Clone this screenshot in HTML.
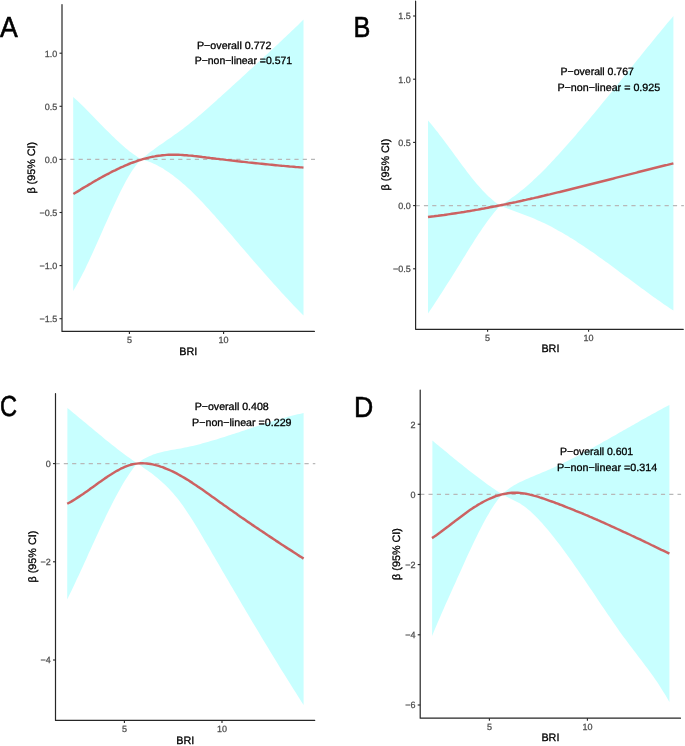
<!DOCTYPE html>
<html><head><meta charset="utf-8"><title>RCS plots</title>
<style>
html,body{margin:0;padding:0;background:#fff;}
body{width:685px;height:746px;overflow:hidden;}
svg{display:block;font-family:"Liberation Sans", sans-serif;will-change:transform;text-rendering:geometricPrecision;}
</style></head><body>
<svg width="685" height="746" viewBox="0 0 685 746">
<rect width="685" height="746" fill="#fff"/>
<g><path d="M73.2 96.9L75.1 98.7L77.1 100.5L79.0 102.3L81.0 104.2L82.9 106.1L84.9 108.0L86.8 109.9L88.8 111.9L90.7 113.9L92.7 115.9L94.6 117.9L96.5 119.9L98.5 121.9L100.4 123.9L102.4 125.9L104.3 127.9L106.3 129.9L108.2 131.8L110.2 133.8L112.1 135.7L114.1 137.6L116.0 139.5L118.0 141.3L119.9 143.1L121.8 144.8L123.8 146.5L125.7 148.2L127.7 149.8L129.6 151.4L131.6 152.8L133.5 154.3L135.5 155.6L137.4 156.9L139.4 158.2L141.3 159.3L141.3 159.3L143.3 157.6L145.3 156.0L147.2 154.4L149.2 152.8L151.2 151.3L153.2 149.9L155.1 148.4L157.1 147.0L159.1 145.6L161.1 144.2L163.1 142.9L165.0 141.5L167.0 140.1L169.0 138.8L171.0 137.4L172.9 136.0L174.9 134.6L176.9 133.2L178.9 131.8L180.9 130.3L182.8 128.9L184.8 127.3L186.8 125.8L188.8 124.2L190.8 122.6L192.7 121.0L194.7 119.4L196.7 117.8L198.7 116.1L200.6 114.4L202.6 112.7L204.6 111.0L206.6 109.2L208.6 107.5L210.5 105.7L212.5 104.0L214.5 102.2L216.5 100.4L218.4 98.6L220.4 96.9L222.4 95.1L224.4 93.3L226.4 91.5L228.3 89.7L230.3 87.9L232.3 86.1L234.3 84.3L236.2 82.5L238.2 80.7L240.2 78.9L242.2 77.1L244.2 75.3L246.1 73.5L248.1 71.6L250.1 69.8L252.1 68.0L254.0 66.2L256.0 64.4L258.0 62.6L260.0 60.7L262.0 58.9L263.9 57.1L265.9 55.3L267.9 53.4L269.9 51.6L271.9 49.7L273.8 47.9L275.8 46.0L277.8 44.2L279.8 42.3L281.7 40.4L283.7 38.6L285.7 36.7L287.7 34.8L289.7 32.9L291.6 31.1L293.6 29.2L295.6 27.3L297.6 25.4L299.5 23.4L301.5 21.5L303.5 19.6L303.5 315.6L301.5 313.6L299.5 311.6L297.6 309.5L295.6 307.5L293.6 305.4L291.6 303.3L289.7 301.2L287.7 299.1L285.7 297.0L283.7 294.8L281.7 292.7L279.8 290.5L277.8 288.3L275.8 286.1L273.8 283.9L271.9 281.7L269.9 279.5L267.9 277.3L265.9 275.0L263.9 272.8L262.0 270.6L260.0 268.3L258.0 266.0L256.0 263.7L254.0 261.5L252.1 259.2L250.1 256.9L248.1 254.6L246.1 252.3L244.2 250.0L242.2 247.7L240.2 245.4L238.2 243.1L236.2 240.7L234.3 238.4L232.3 236.1L230.3 233.8L228.3 231.5L226.4 229.2L224.4 226.9L222.4 224.6L220.4 222.4L218.4 220.1L216.5 217.9L214.5 215.6L212.5 213.4L210.5 211.2L208.6 209.0L206.6 206.9L204.6 204.8L202.6 202.6L200.6 200.6L198.7 198.5L196.7 196.5L194.7 194.5L192.7 192.6L190.8 190.6L188.8 188.8L186.8 186.9L184.8 185.1L182.8 183.4L180.9 181.7L178.9 180.0L176.9 178.4L174.9 176.9L172.9 175.3L171.0 173.9L169.0 172.5L167.0 171.2L165.0 169.9L163.1 168.6L161.1 167.5L159.1 166.4L157.1 165.3L155.1 164.3L153.2 163.4L151.2 162.6L149.2 161.8L147.2 161.0L145.3 160.4L143.3 159.8L141.3 159.3L141.3 159.3L139.4 161.3L137.4 163.5L135.5 166.0L133.5 168.7L131.6 171.6L129.6 174.8L127.7 178.1L125.7 181.6L123.8 185.2L121.8 189.0L119.9 192.8L118.0 196.8L116.0 200.9L114.1 205.1L112.1 209.3L110.2 213.6L108.2 217.9L106.3 222.3L104.3 226.6L102.4 231.0L100.4 235.4L98.5 239.8L96.5 244.2L94.6 248.5L92.7 252.8L90.7 257.1L88.8 261.2L86.8 265.3L84.9 269.4L82.9 273.3L81.0 277.1L79.0 280.8L77.1 284.3L75.1 287.7L73.2 291.0Z" fill="#C8FFFF"/><line x1="62.0" y1="159.4" x2="315.0" y2="159.4" stroke="#B8B8B8" stroke-width="1.1" stroke-dasharray="4.2 4.1"/><path d="M73.4 194.0L75.4 192.8L77.4 191.6L79.4 190.4L81.3 189.1L83.3 187.9L85.3 186.7L87.3 185.6L89.3 184.4L91.3 183.2L93.2 182.0L95.2 180.9L97.2 179.8L99.2 178.6L101.2 177.5L103.2 176.4L105.1 175.4L107.1 174.3L109.1 173.3L111.1 172.2L113.1 171.2L115.1 170.3L117.0 169.3L119.0 168.4L121.0 167.4L123.0 166.6L125.0 165.7L127.0 164.8L128.9 164.0L130.9 163.2L132.9 162.5L134.9 161.8L136.9 161.1L138.9 160.4L140.8 159.8L142.8 159.2L144.8 158.6L146.8 158.1L148.8 157.6L150.8 157.1L152.7 156.7L154.7 156.4L156.7 156.0L158.7 155.7L160.7 155.5L162.7 155.2L164.6 155.1L166.6 154.9L168.6 154.8L170.6 154.8L172.6 154.7L174.6 154.7L176.5 154.8L178.5 154.8L180.5 154.9L182.5 155.0L184.5 155.2L186.5 155.3L188.4 155.5L190.4 155.6L192.4 155.8L194.4 156.1L196.4 156.3L198.4 156.5L200.4 156.7L202.3 157.0L204.3 157.2L206.3 157.5L208.3 157.7L210.3 158.0L212.3 158.2L214.2 158.4L216.2 158.7L218.2 158.9L220.2 159.2L222.2 159.4L224.2 159.6L226.1 159.9L228.1 160.1L230.1 160.3L232.1 160.6L234.1 160.8L236.1 161.0L238.0 161.3L240.0 161.5L242.0 161.7L244.0 161.9L246.0 162.1L248.0 162.4L249.9 162.6L251.9 162.8L253.9 163.0L255.9 163.2L257.9 163.4L259.9 163.6L261.8 163.8L263.8 164.0L265.8 164.2L267.8 164.4L269.8 164.6L271.8 164.8L273.7 165.0L275.7 165.2L277.7 165.4L279.7 165.6L281.7 165.8L283.7 165.9L285.6 166.1L287.6 166.3L289.6 166.5L291.6 166.6L293.6 166.8L295.6 167.0L297.5 167.1L299.5 167.3L301.5 167.4L303.5 167.6" fill="none" stroke="#CC6262" stroke-width="2.45" stroke-linecap="butt" stroke-linejoin="round"/><path d="M62.0 4.5V331.4H314.4" fill="none" stroke="#262626" stroke-width="1.2" stroke-linejoin="round" stroke-linecap="round"/><line x1="59.5" y1="53.2" x2="62.0" y2="53.2" stroke="#262626" stroke-width="1.1"/><text x="57.2" y="56.6" text-anchor="end" font-size="9.0" fill="#4D4D4D" stroke="#4D4D4D" stroke-width="0.25">1.0</text><line x1="59.5" y1="106.3" x2="62.0" y2="106.3" stroke="#262626" stroke-width="1.1"/><text x="57.2" y="109.7" text-anchor="end" font-size="9.0" fill="#4D4D4D" stroke="#4D4D4D" stroke-width="0.25">0.5</text><line x1="59.5" y1="159.4" x2="62.0" y2="159.4" stroke="#262626" stroke-width="1.1"/><text x="57.2" y="162.8" text-anchor="end" font-size="9.0" fill="#4D4D4D" stroke="#4D4D4D" stroke-width="0.25">0.0</text><line x1="59.5" y1="212.5" x2="62.0" y2="212.5" stroke="#262626" stroke-width="1.1"/><text x="57.2" y="215.9" text-anchor="end" font-size="9.0" fill="#4D4D4D" stroke="#4D4D4D" stroke-width="0.25">−0.5</text><line x1="59.5" y1="265.6" x2="62.0" y2="265.6" stroke="#262626" stroke-width="1.1"/><text x="57.2" y="269.0" text-anchor="end" font-size="9.0" fill="#4D4D4D" stroke="#4D4D4D" stroke-width="0.25">−1.0</text><line x1="59.5" y1="318.7" x2="62.0" y2="318.7" stroke="#262626" stroke-width="1.1"/><text x="57.2" y="322.1" text-anchor="end" font-size="9.0" fill="#4D4D4D" stroke="#4D4D4D" stroke-width="0.25">−1.5</text><line x1="129.4" y1="331.4" x2="129.4" y2="333.9" stroke="#262626" stroke-width="1.1"/><text x="129.4" y="342.9" text-anchor="middle" font-size="9.0" fill="#4D4D4D" stroke="#4D4D4D" stroke-width="0.25">5</text><line x1="223.6" y1="331.4" x2="223.6" y2="333.9" stroke="#262626" stroke-width="1.1"/><text x="223.6" y="342.9" text-anchor="middle" font-size="9.0" fill="#4D4D4D" stroke="#4D4D4D" stroke-width="0.25">10</text><text x="188.2" y="354.8" text-anchor="middle" font-size="10.8" fill="#000" stroke="#000" stroke-width="0.30">BRI</text><text transform="translate(30.9 167.7) rotate(-90)" x="0" y="3.9" text-anchor="middle" font-size="10.8" fill="#000" stroke="#000" stroke-width="0.30">β (95% CI)</text><text x="197.0" y="48.9" font-size="10.5" fill="#000" stroke="#000" stroke-width="0.30" textLength="74.48" lengthAdjust="spacingAndGlyphs">P−overall 0.772</text><text x="194.7" y="64.2" font-size="10.5" fill="#000" stroke="#000" stroke-width="0.30" textLength="97.39" lengthAdjust="spacingAndGlyphs">P−non−linear =0.571</text><text transform="translate(0.00 37.10) scale(0.920 1)" font-size="29.0" fill="#000" stroke="#000" stroke-width="0.60">A</text></g>
<g><path d="M428.0 120.4L430.0 122.7L431.9 125.0L433.9 127.4L435.8 129.9L437.8 132.3L439.7 134.9L441.7 137.4L443.6 140.0L445.6 142.7L447.5 145.3L449.5 148.0L451.4 150.6L453.4 153.3L455.3 156.0L457.3 158.6L459.2 161.3L461.2 163.9L463.1 166.6L465.1 169.1L467.0 171.7L469.0 174.2L470.9 176.7L472.9 179.2L474.8 181.5L476.8 183.9L478.7 186.1L480.7 188.3L482.6 190.5L484.6 192.5L486.5 194.5L488.5 196.4L490.4 198.1L492.4 199.8L494.3 201.4L496.3 202.9L498.2 204.3L500.2 205.5L500.2 205.5L502.2 204.3L504.2 203.0L506.2 201.7L508.2 200.4L510.2 199.0L512.1 197.6L514.1 196.2L516.1 194.7L518.1 193.2L520.1 191.6L522.1 190.0L524.1 188.4L526.1 186.7L528.1 185.0L530.1 183.3L532.1 181.5L534.0 179.6L536.0 177.7L538.0 175.8L540.0 173.9L542.0 171.9L544.0 169.9L546.0 167.9L548.0 165.8L550.0 163.7L552.0 161.6L554.0 159.5L555.9 157.3L557.9 155.2L559.9 153.0L561.9 150.8L563.9 148.6L565.9 146.3L567.9 144.1L569.9 141.8L571.9 139.6L573.9 137.3L575.9 135.0L577.8 132.6L579.8 130.3L581.8 128.0L583.8 125.6L585.8 123.3L587.8 120.9L589.8 118.5L591.8 116.1L593.8 113.7L595.8 111.3L597.7 108.9L599.7 106.5L601.7 104.0L603.7 101.6L605.7 99.2L607.7 96.7L609.7 94.3L611.7 91.8L613.7 89.3L615.7 86.9L617.7 84.4L619.6 81.9L621.6 79.5L623.6 77.0L625.6 74.5L627.6 72.0L629.6 69.5L631.6 67.1L633.6 64.6L635.6 62.1L637.6 59.6L639.6 57.2L641.5 54.7L643.5 52.2L645.5 49.8L647.5 47.3L649.5 44.9L651.5 42.4L653.5 40.0L655.5 37.6L657.5 35.1L659.5 32.7L661.5 30.3L663.4 27.9L665.4 25.5L667.4 23.1L669.4 20.7L671.4 18.4L673.4 16.0L673.4 310.6L671.4 309.3L669.4 307.9L667.4 306.6L665.4 305.2L663.4 303.9L661.5 302.5L659.5 301.1L657.5 299.7L655.5 298.3L653.5 296.9L651.5 295.4L649.5 294.0L647.5 292.5L645.5 291.1L643.5 289.6L641.5 288.2L639.6 286.7L637.6 285.2L635.6 283.8L633.6 282.3L631.6 280.8L629.6 279.3L627.6 277.8L625.6 276.4L623.6 274.9L621.6 273.4L619.6 271.9L617.7 270.5L615.7 269.0L613.7 267.5L611.7 266.0L609.7 264.6L607.7 263.1L605.7 261.7L603.7 260.2L601.7 258.8L599.7 257.4L597.7 256.0L595.8 254.5L593.8 253.1L591.8 251.8L589.8 250.4L587.8 249.0L585.8 247.7L583.8 246.3L581.8 245.0L579.8 243.7L577.8 242.4L575.9 241.1L573.9 239.8L571.9 238.6L569.9 237.4L567.9 236.1L565.9 234.9L563.9 233.8L561.9 232.6L559.9 231.5L557.9 230.4L555.9 229.3L554.0 228.2L552.0 227.1L550.0 226.1L548.0 225.1L546.0 224.1L544.0 223.1L542.0 222.2L540.0 221.3L538.0 220.4L536.0 219.5L534.0 218.6L532.1 217.8L530.1 217.0L528.1 216.2L526.1 215.4L524.1 214.7L522.1 213.9L520.1 213.2L518.1 212.5L516.1 211.8L514.1 211.1L512.1 210.3L510.2 209.6L508.2 208.8L506.2 208.1L504.2 207.2L502.2 206.4L500.2 205.5L500.2 205.5L498.2 207.7L496.3 209.9L494.3 212.3L492.4 214.7L490.4 217.2L488.5 219.8L486.5 222.5L484.6 225.2L482.6 228.0L480.7 230.9L478.7 233.8L476.8 236.8L474.8 239.8L472.9 242.9L470.9 246.0L469.0 249.1L467.0 252.3L465.1 255.4L463.1 258.6L461.2 261.8L459.2 264.9L457.3 268.0L455.3 271.2L453.4 274.3L451.4 277.4L449.5 280.5L447.5 283.6L445.6 286.6L443.6 289.7L441.7 292.7L439.7 295.7L437.8 298.7L435.8 301.7L433.9 304.7L431.9 307.7L430.0 310.6L428.0 313.6Z" fill="#C8FFFF"/><line x1="415.6" y1="205.6" x2="683.9" y2="205.6" stroke="#B8B8B8" stroke-width="1.1" stroke-dasharray="4.2 4.1"/><path d="M428.0 217.0L430.0 216.7L432.0 216.5L434.0 216.3L436.0 216.0L438.0 215.8L440.0 215.5L442.0 215.2L444.0 215.0L446.0 214.7L448.0 214.4L449.9 214.1L451.9 213.8L453.9 213.5L455.9 213.2L457.9 212.9L459.9 212.6L461.9 212.3L463.9 212.0L465.9 211.6L467.9 211.3L469.9 211.0L471.9 210.6L473.9 210.3L475.9 209.9L477.9 209.6L479.9 209.2L481.9 208.8L483.9 208.5L485.9 208.1L487.9 207.7L489.8 207.3L491.8 207.0L493.8 206.6L495.8 206.2L497.8 205.8L499.8 205.4L501.8 205.0L503.8 204.6L505.8 204.2L507.8 203.7L509.8 203.3L511.8 202.9L513.8 202.5L515.8 202.1L517.8 201.6L519.8 201.2L521.8 200.8L523.8 200.3L525.8 199.9L527.8 199.4L529.8 199.0L531.7 198.5L533.7 198.1L535.7 197.6L537.7 197.2L539.7 196.7L541.7 196.2L543.7 195.8L545.7 195.3L547.7 194.8L549.7 194.4L551.7 193.9L553.7 193.4L555.7 192.9L557.7 192.4L559.7 192.0L561.7 191.5L563.7 191.0L565.7 190.5L567.7 190.0L569.7 189.5L571.6 189.0L573.6 188.5L575.6 188.0L577.6 187.5L579.6 187.0L581.6 186.5L583.6 186.0L585.6 185.5L587.6 185.0L589.6 184.5L591.6 184.0L593.6 183.5L595.6 183.0L597.6 182.5L599.6 182.0L601.6 181.5L603.6 181.0L605.6 180.5L607.6 180.0L609.6 179.5L611.6 179.0L613.5 178.5L615.5 177.9L617.5 177.4L619.5 176.9L621.5 176.4L623.5 175.9L625.5 175.4L627.5 174.9L629.5 174.4L631.5 173.9L633.5 173.4L635.5 172.9L637.5 172.3L639.5 171.8L641.5 171.3L643.5 170.8L645.5 170.3L647.5 169.8L649.5 169.3L651.5 168.8L653.4 168.3L655.4 167.8L657.4 167.3L659.4 166.8L661.4 166.3L663.4 165.8L665.4 165.3L667.4 164.9L669.4 164.4L671.4 163.9L673.4 163.4" fill="none" stroke="#CC6262" stroke-width="2.45" stroke-linecap="butt" stroke-linejoin="round"/><path d="M415.6 1.2V329.3H683.3" fill="none" stroke="#262626" stroke-width="1.2" stroke-linejoin="round" stroke-linecap="round"/><line x1="413.1" y1="16.0" x2="415.6" y2="16.0" stroke="#262626" stroke-width="1.1"/><text x="410.8" y="19.4" text-anchor="end" font-size="9.0" fill="#4D4D4D" stroke="#4D4D4D" stroke-width="0.25">1.5</text><line x1="413.1" y1="79.2" x2="415.6" y2="79.2" stroke="#262626" stroke-width="1.1"/><text x="410.8" y="82.6" text-anchor="end" font-size="9.0" fill="#4D4D4D" stroke="#4D4D4D" stroke-width="0.25">1.0</text><line x1="413.1" y1="142.4" x2="415.6" y2="142.4" stroke="#262626" stroke-width="1.1"/><text x="410.8" y="145.8" text-anchor="end" font-size="9.0" fill="#4D4D4D" stroke="#4D4D4D" stroke-width="0.25">0.5</text><line x1="413.1" y1="205.6" x2="415.6" y2="205.6" stroke="#262626" stroke-width="1.1"/><text x="410.8" y="209.0" text-anchor="end" font-size="9.0" fill="#4D4D4D" stroke="#4D4D4D" stroke-width="0.25">0.0</text><line x1="413.1" y1="268.8" x2="415.6" y2="268.8" stroke="#262626" stroke-width="1.1"/><text x="410.8" y="272.2" text-anchor="end" font-size="9.0" fill="#4D4D4D" stroke="#4D4D4D" stroke-width="0.25">−0.5</text><line x1="487.6" y1="329.3" x2="487.6" y2="331.8" stroke="#262626" stroke-width="1.1"/><text x="487.6" y="340.8" text-anchor="middle" font-size="9.0" fill="#4D4D4D" stroke="#4D4D4D" stroke-width="0.25">5</text><line x1="588.6" y1="329.3" x2="588.6" y2="331.8" stroke="#262626" stroke-width="1.1"/><text x="588.6" y="340.8" text-anchor="middle" font-size="9.0" fill="#4D4D4D" stroke="#4D4D4D" stroke-width="0.25">10</text><text x="550.4" y="352.3" text-anchor="middle" font-size="10.8" fill="#000" stroke="#000" stroke-width="0.30">BRI</text><text transform="translate(385.1 164.5) rotate(-90)" x="0" y="3.9" text-anchor="middle" font-size="10.8" fill="#000" stroke="#000" stroke-width="0.30">β (95% CI)</text><text x="560.6" y="75.2" font-size="10.5" fill="#000" stroke="#000" stroke-width="0.30" textLength="73.26" lengthAdjust="spacingAndGlyphs">P−overall 0.767</text><text x="557.4" y="90.7" font-size="10.5" fill="#000" stroke="#000" stroke-width="0.30" textLength="102.83" lengthAdjust="spacingAndGlyphs">P−non−linear = 0.925</text><text transform="translate(353.50 36.80) scale(0.870 1)" font-size="29.0" fill="#000" stroke="#000" stroke-width="0.60">B</text></g>
<g><path d="M67.4 408.0L69.4 409.6L71.4 411.3L73.4 412.9L75.4 414.5L77.4 416.2L79.4 417.9L81.4 419.5L83.4 421.2L85.4 422.8L87.4 424.5L89.4 426.2L91.4 427.8L93.4 429.5L95.4 431.2L97.4 432.8L99.4 434.5L101.4 436.1L103.3 437.7L105.3 439.4L107.3 441.0L109.3 442.6L111.3 444.2L113.3 445.8L115.3 447.3L117.3 448.9L119.3 450.4L121.3 451.9L123.3 453.4L125.3 454.9L127.3 456.4L129.3 457.8L131.3 459.3L133.3 460.7L135.3 462.0L137.3 463.4L137.3 463.4L139.3 461.9L141.3 460.6L143.2 459.3L145.2 458.2L147.2 457.2L149.2 456.2L151.2 455.4L153.1 454.6L155.1 453.9L157.1 453.3L159.1 452.7L161.1 452.2L163.0 451.7L165.0 451.3L167.0 450.9L169.0 450.5L171.0 450.1L172.9 449.8L174.9 449.4L176.9 449.1L178.9 448.8L180.9 448.4L182.8 448.0L184.8 447.6L186.8 447.2L188.8 446.8L190.8 446.3L192.7 445.9L194.7 445.4L196.7 444.9L198.7 444.4L200.7 443.9L202.6 443.3L204.6 442.8L206.6 442.3L208.6 441.7L210.6 441.1L212.5 440.5L214.5 440.0L216.5 439.4L218.5 438.8L220.5 438.1L222.4 437.5L224.4 436.9L226.4 436.3L228.4 435.6L230.3 435.0L232.3 434.3L234.3 433.7L236.3 433.0L238.3 432.4L240.2 431.7L242.2 431.1L244.2 430.4L246.2 429.8L248.2 429.1L250.1 428.4L252.1 427.8L254.1 427.1L256.1 426.5L258.1 425.8L260.0 425.2L262.0 424.5L264.0 423.9L266.0 423.3L268.0 422.7L269.9 422.0L271.9 421.4L273.9 420.8L275.9 420.2L277.9 419.6L279.8 419.1L281.8 418.5L283.8 417.9L285.8 417.4L287.8 416.8L289.7 416.3L291.7 415.8L293.7 415.3L295.7 414.8L297.7 414.3L299.6 413.9L301.6 413.4L303.6 413.0L303.6 705.0L301.6 701.9L299.6 698.8L297.7 695.7L295.7 692.6L293.7 689.4L291.7 686.3L289.7 683.1L287.8 679.9L285.8 676.8L283.8 673.6L281.8 670.4L279.8 667.2L277.9 664.0L275.9 660.7L273.9 657.5L271.9 654.3L269.9 651.0L268.0 647.7L266.0 644.5L264.0 641.2L262.0 637.9L260.0 634.6L258.1 631.3L256.1 628.0L254.1 624.7L252.1 621.4L250.1 618.1L248.2 614.7L246.2 611.4L244.2 608.0L242.2 604.7L240.2 601.3L238.3 598.0L236.3 594.6L234.3 591.2L232.3 587.8L230.3 584.5L228.4 581.1L226.4 577.7L224.4 574.3L222.4 570.9L220.5 567.5L218.5 564.1L216.5 560.7L214.5 557.3L212.5 553.9L210.6 550.5L208.6 547.1L206.6 543.7L204.6 540.4L202.6 537.0L200.7 533.7L198.7 530.3L196.7 527.1L194.7 523.8L192.7 520.6L190.8 517.5L188.8 514.4L186.8 511.4L184.8 508.5L182.8 505.6L180.9 502.9L178.9 500.3L176.9 497.8L174.9 495.4L172.9 493.1L171.0 490.9L169.0 488.8L167.0 486.8L165.0 484.8L163.0 483.0L161.1 481.2L159.1 479.4L157.1 477.8L155.1 476.2L153.1 474.6L151.2 473.1L149.2 471.7L147.2 470.2L145.2 468.9L143.2 467.5L141.3 466.1L139.3 464.8L137.3 463.4L137.3 463.4L135.4 465.6L133.4 468.1L131.5 470.7L129.5 473.4L127.6 476.4L125.6 479.4L123.7 482.6L121.7 485.9L119.8 489.4L117.8 492.9L115.9 496.5L113.9 500.2L112.0 504.0L110.0 507.9L108.1 511.8L106.1 515.8L104.2 519.9L102.2 524.0L100.3 528.1L98.4 532.3L96.4 536.5L94.5 540.8L92.5 545.0L90.6 549.3L88.6 553.6L86.7 557.9L84.7 562.2L82.8 566.4L80.8 570.7L78.9 574.9L76.9 579.1L75.0 583.3L73.0 587.4L71.1 591.5L69.1 595.5L67.2 599.5Z" fill="#C8FFFF"/><line x1="55.5" y1="463.6" x2="315.3" y2="463.6" stroke="#B8B8B8" stroke-width="1.1" stroke-dasharray="4.2 4.1"/><path d="M67.2 503.8L69.2 502.7L71.2 501.6L73.2 500.4L75.1 499.2L77.1 497.9L79.1 496.6L81.1 495.3L83.1 494.0L85.1 492.6L87.1 491.2L89.1 489.8L91.0 488.3L93.0 486.9L95.0 485.5L97.0 484.0L99.0 482.6L101.0 481.2L103.0 479.8L104.9 478.4L106.9 477.1L108.9 475.7L110.9 474.5L112.9 473.2L114.9 472.0L116.9 470.8L118.9 469.8L120.8 468.7L122.8 467.8L124.8 466.9L126.8 466.1L128.8 465.4L130.8 464.8L132.8 464.3L134.7 463.9L136.7 463.6L138.7 463.4L140.7 463.3L142.7 463.3L144.7 463.4L146.7 463.5L148.6 463.7L150.6 464.0L152.6 464.4L154.6 464.9L156.6 465.4L158.6 465.9L160.6 466.6L162.6 467.2L164.5 468.0L166.5 468.8L168.5 469.6L170.5 470.5L172.5 471.4L174.5 472.4L176.5 473.4L178.4 474.5L180.4 475.6L182.4 476.7L184.4 477.9L186.4 479.1L188.4 480.3L190.4 481.6L192.4 482.9L194.3 484.2L196.3 485.5L198.3 486.9L200.3 488.2L202.3 489.6L204.3 491.0L206.3 492.4L208.2 493.8L210.2 495.2L212.2 496.7L214.2 498.1L216.2 499.5L218.2 500.9L220.2 502.4L222.2 503.8L224.1 505.2L226.1 506.6L228.1 508.0L230.1 509.4L232.1 510.8L234.1 512.2L236.1 513.6L238.0 515.0L240.0 516.4L242.0 517.8L244.0 519.1L246.0 520.5L248.0 521.9L250.0 523.2L251.9 524.6L253.9 525.9L255.9 527.3L257.9 528.6L259.9 530.0L261.9 531.3L263.9 532.6L265.9 534.0L267.8 535.3L269.8 536.6L271.8 537.9L273.8 539.2L275.8 540.6L277.8 541.9L279.8 543.2L281.7 544.5L283.7 545.8L285.7 547.1L287.7 548.4L289.7 549.6L291.7 550.9L293.7 552.2L295.7 553.5L297.6 554.8L299.6 556.1L301.6 557.3L303.6 558.6" fill="none" stroke="#CC6262" stroke-width="2.45" stroke-linecap="butt" stroke-linejoin="round"/><path d="M55.5 393.5V720.4H314.7" fill="none" stroke="#262626" stroke-width="1.2" stroke-linejoin="round" stroke-linecap="round"/><line x1="53.0" y1="463.6" x2="55.5" y2="463.6" stroke="#262626" stroke-width="1.1"/><text x="50.7" y="467.0" text-anchor="end" font-size="9.0" fill="#4D4D4D" stroke="#4D4D4D" stroke-width="0.25">0</text><line x1="53.0" y1="561.8" x2="55.5" y2="561.8" stroke="#262626" stroke-width="1.1"/><text x="50.7" y="565.2" text-anchor="end" font-size="9.0" fill="#4D4D4D" stroke="#4D4D4D" stroke-width="0.25">−2</text><line x1="53.0" y1="660.0" x2="55.5" y2="660.0" stroke="#262626" stroke-width="1.1"/><text x="50.7" y="663.4" text-anchor="end" font-size="9.0" fill="#4D4D4D" stroke="#4D4D4D" stroke-width="0.25">−4</text><line x1="124.4" y1="720.4" x2="124.4" y2="722.9" stroke="#262626" stroke-width="1.1"/><text x="124.4" y="731.9" text-anchor="middle" font-size="9.0" fill="#4D4D4D" stroke="#4D4D4D" stroke-width="0.25">5</text><line x1="222.0" y1="720.4" x2="222.0" y2="722.9" stroke="#262626" stroke-width="1.1"/><text x="222.0" y="731.9" text-anchor="middle" font-size="9.0" fill="#4D4D4D" stroke="#4D4D4D" stroke-width="0.25">10</text><text x="185.3" y="744.1" text-anchor="middle" font-size="10.8" fill="#000" stroke="#000" stroke-width="0.30">BRI</text><text transform="translate(31.9 556.6) rotate(-90)" x="0" y="3.9" text-anchor="middle" font-size="10.8" fill="#000" stroke="#000" stroke-width="0.30">β (95% CI)</text><text x="194.7" y="410.4" font-size="10.5" fill="#000" stroke="#000" stroke-width="0.30" textLength="74.07" lengthAdjust="spacingAndGlyphs">P−overall 0.408</text><text x="192.1" y="426.0" font-size="10.5" fill="#000" stroke="#000" stroke-width="0.30" textLength="99.41" lengthAdjust="spacingAndGlyphs">P−non−linear =0.229</text><text transform="translate(0.00 416.20) scale(0.815 1)" font-size="29.0" fill="#000" stroke="#000" stroke-width="0.60">C</text></g>
<g><path d="M432.4 440.6L434.4 442.2L436.4 443.9L438.4 445.5L440.4 447.2L442.4 448.8L444.4 450.5L446.4 452.1L448.4 453.8L450.3 455.4L452.3 457.0L454.3 458.7L456.3 460.3L458.3 461.9L460.3 463.5L462.3 465.1L464.3 466.7L466.3 468.3L468.3 469.9L470.3 471.4L472.3 473.0L474.3 474.5L476.3 476.1L478.3 477.6L480.3 479.1L482.3 480.6L484.3 482.0L486.2 483.5L488.2 484.9L490.2 486.3L492.2 487.7L494.2 489.1L496.2 490.5L498.2 491.8L500.2 493.1L502.2 494.4L502.2 494.4L504.2 492.5L506.2 490.8L508.2 489.2L510.2 487.8L512.2 486.5L514.1 485.3L516.1 484.2L518.1 483.1L520.1 482.1L522.1 481.2L524.1 480.2L526.1 479.3L528.1 478.4L530.1 477.6L532.1 476.7L534.0 475.9L536.0 475.0L538.0 474.2L540.0 473.4L542.0 472.5L544.0 471.7L546.0 470.9L548.0 470.0L550.0 469.2L552.0 468.3L554.0 467.4L555.9 466.5L557.9 465.6L559.9 464.6L561.9 463.7L563.9 462.7L565.9 461.7L567.9 460.8L569.9 459.8L571.9 458.8L573.9 457.8L575.8 456.7L577.8 455.7L579.8 454.7L581.8 453.6L583.8 452.6L585.8 451.5L587.8 450.4L589.8 449.3L591.8 448.3L593.8 447.2L595.8 446.1L597.7 445.0L599.7 443.9L601.7 442.8L603.7 441.6L605.7 440.5L607.7 439.4L609.7 438.3L611.7 437.1L613.7 436.0L615.7 434.9L617.6 433.7L619.6 432.6L621.6 431.5L623.6 430.3L625.6 429.2L627.6 428.1L629.6 426.9L631.6 425.8L633.6 424.7L635.6 423.5L637.6 422.4L639.5 421.3L641.5 420.1L643.5 419.0L645.5 417.9L647.5 416.8L649.5 415.7L651.5 414.6L653.5 413.5L655.5 412.4L657.5 411.3L659.4 410.3L661.4 409.2L663.4 408.1L665.4 407.1L667.4 406.0L669.4 405.0L669.4 702.0L667.4 698.5L665.4 695.1L663.4 691.9L661.4 688.7L659.4 685.6L657.5 682.6L655.5 679.7L653.5 676.8L651.5 674.0L649.5 671.2L647.5 668.5L645.5 665.9L643.5 663.2L641.5 660.6L639.5 658.0L637.6 655.4L635.6 652.8L633.6 650.2L631.6 647.6L629.6 645.0L627.6 642.3L625.6 639.6L623.6 636.9L621.6 634.2L619.6 631.4L617.6 628.6L615.7 625.7L613.7 622.9L611.7 620.0L609.7 617.1L607.7 614.2L605.7 611.3L603.7 608.3L601.7 605.4L599.7 602.5L597.7 599.5L595.8 596.5L593.8 593.6L591.8 590.6L589.8 587.7L587.8 584.7L585.8 581.8L583.8 578.8L581.8 575.9L579.8 573.0L577.8 570.1L575.8 567.2L573.9 564.4L571.9 561.6L569.9 558.8L567.9 556.0L565.9 553.2L563.9 550.5L561.9 547.8L559.9 545.1L557.9 542.5L555.9 539.9L554.0 537.4L552.0 534.9L550.0 532.4L548.0 530.0L546.0 527.7L544.0 525.4L542.0 523.1L540.0 520.9L538.0 518.8L536.0 516.8L534.0 514.8L532.1 512.9L530.1 511.1L528.1 509.4L526.1 507.8L524.1 506.3L522.1 504.9L520.1 503.6L518.1 502.4L516.1 501.4L514.1 500.4L512.2 499.4L510.2 498.5L508.2 497.5L506.2 496.5L504.2 495.5L502.2 494.4L502.2 494.4L500.3 496.6L498.3 499.1L496.4 501.7L494.4 504.5L492.5 507.5L490.5 510.6L488.6 513.9L486.6 517.3L484.7 520.8L482.7 524.4L480.8 528.2L478.8 532.0L476.9 536.0L474.9 540.0L473.0 544.0L471.0 548.2L469.1 552.3L467.1 556.5L465.2 560.8L463.3 565.1L461.3 569.4L459.4 573.7L457.4 578.0L455.5 582.4L453.5 586.7L451.6 591.0L449.6 595.4L447.7 599.7L445.7 604.1L443.8 608.5L441.8 612.9L439.9 617.4L437.9 621.9L436.0 626.5L434.0 631.2L432.1 636.0Z" fill="#C8FFFF"/><line x1="420.2" y1="494.4" x2="681.1" y2="494.4" stroke="#B8B8B8" stroke-width="1.1" stroke-dasharray="4.2 4.1"/><path d="M432.0 538.1L434.0 536.8L436.0 535.4L438.0 534.0L440.0 532.6L442.0 531.1L444.0 529.6L446.0 528.1L448.0 526.6L450.0 525.0L451.9 523.5L453.9 522.0L455.9 520.4L457.9 518.9L459.9 517.4L461.9 515.9L463.9 514.4L465.9 512.9L467.9 511.5L469.9 510.1L471.9 508.7L473.9 507.4L475.9 506.2L477.9 504.9L479.9 503.8L481.9 502.6L483.9 501.5L485.9 500.5L487.9 499.5L489.9 498.6L491.8 497.8L493.8 497.0L495.8 496.2L497.8 495.6L499.8 495.0L501.8 494.4L503.8 494.0L505.8 493.6L507.8 493.2L509.8 493.0L511.8 492.8L513.8 492.7L515.8 492.7L517.8 492.8L519.8 492.9L521.8 493.1L523.8 493.4L525.8 493.7L527.8 494.1L529.8 494.6L531.7 495.0L533.7 495.6L535.7 496.1L537.7 496.7L539.7 497.4L541.7 498.0L543.7 498.7L545.7 499.4L547.7 500.1L549.7 500.8L551.7 501.5L553.7 502.2L555.7 503.0L557.7 503.7L559.7 504.5L561.7 505.2L563.7 506.0L565.7 506.8L567.7 507.6L569.7 508.3L571.6 509.1L573.6 509.9L575.6 510.8L577.6 511.6L579.6 512.4L581.6 513.2L583.6 514.0L585.6 514.9L587.6 515.7L589.6 516.6L591.6 517.4L593.6 518.3L595.6 519.2L597.6 520.0L599.6 520.9L601.6 521.8L603.6 522.7L605.6 523.6L607.6 524.5L609.6 525.4L611.5 526.3L613.5 527.2L615.5 528.1L617.5 529.0L619.5 529.9L621.5 530.8L623.5 531.8L625.5 532.7L627.5 533.6L629.5 534.5L631.5 535.5L633.5 536.4L635.5 537.4L637.5 538.3L639.5 539.2L641.5 540.2L643.5 541.1L645.5 542.1L647.5 543.0L649.5 544.0L651.4 545.0L653.4 545.9L655.4 546.9L657.4 547.8L659.4 548.8L661.4 549.8L663.4 550.7L665.4 551.7L667.4 552.6L669.4 553.6" fill="none" stroke="#CC6262" stroke-width="2.45" stroke-linecap="butt" stroke-linejoin="round"/><path d="M420.2 390.0V718.2H680.5" fill="none" stroke="#262626" stroke-width="1.2" stroke-linejoin="round" stroke-linecap="round"/><line x1="417.7" y1="424.2" x2="420.2" y2="424.2" stroke="#262626" stroke-width="1.1"/><text x="415.4" y="427.6" text-anchor="end" font-size="9.0" fill="#4D4D4D" stroke="#4D4D4D" stroke-width="0.25">2</text><line x1="417.7" y1="494.4" x2="420.2" y2="494.4" stroke="#262626" stroke-width="1.1"/><text x="415.4" y="497.8" text-anchor="end" font-size="9.0" fill="#4D4D4D" stroke="#4D4D4D" stroke-width="0.25">0</text><line x1="417.7" y1="564.6" x2="420.2" y2="564.6" stroke="#262626" stroke-width="1.1"/><text x="415.4" y="568.0" text-anchor="end" font-size="9.0" fill="#4D4D4D" stroke="#4D4D4D" stroke-width="0.25">−2</text><line x1="417.7" y1="634.8" x2="420.2" y2="634.8" stroke="#262626" stroke-width="1.1"/><text x="415.4" y="638.2" text-anchor="end" font-size="9.0" fill="#4D4D4D" stroke="#4D4D4D" stroke-width="0.25">−4</text><line x1="417.7" y1="705.0" x2="420.2" y2="705.0" stroke="#262626" stroke-width="1.1"/><text x="415.4" y="708.4" text-anchor="end" font-size="9.0" fill="#4D4D4D" stroke="#4D4D4D" stroke-width="0.25">−6</text><line x1="489.4" y1="718.2" x2="489.4" y2="720.7" stroke="#262626" stroke-width="1.1"/><text x="489.4" y="729.7" text-anchor="middle" font-size="9.0" fill="#4D4D4D" stroke="#4D4D4D" stroke-width="0.25">5</text><line x1="587.4" y1="718.2" x2="587.4" y2="720.7" stroke="#262626" stroke-width="1.1"/><text x="587.4" y="729.7" text-anchor="middle" font-size="9.0" fill="#4D4D4D" stroke="#4D4D4D" stroke-width="0.25">10</text><text x="550.4" y="741.0" text-anchor="middle" font-size="10.8" fill="#000" stroke="#000" stroke-width="0.30">BRI</text><text transform="translate(396.4 554.0) rotate(-90)" x="0" y="3.9" text-anchor="middle" font-size="10.8" fill="#000" stroke="#000" stroke-width="0.30">β (95% CI)</text><text x="560.1" y="455.4" font-size="10.5" fill="#000" stroke="#000" stroke-width="0.30" textLength="73.06" lengthAdjust="spacingAndGlyphs">P−overall 0.601</text><text x="557.1" y="471.0" font-size="10.5" fill="#000" stroke="#000" stroke-width="0.30" textLength="100.02" lengthAdjust="spacingAndGlyphs">P−non−linear =0.314</text><text transform="translate(354.00 416.80) scale(0.920 1)" font-size="29.0" fill="#000" stroke="#000" stroke-width="0.60">D</text></g>
</svg>
</body></html>
